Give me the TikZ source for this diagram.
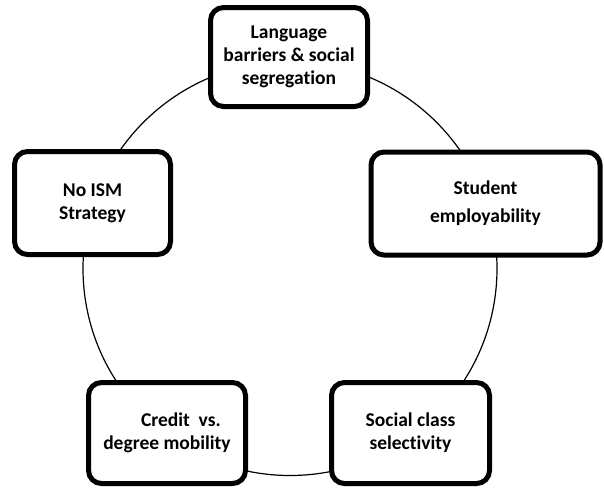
\documentclass[tikz,border=0pt]{standalone}
\usepackage{fontspec}
\setmainfont[Ligatures = NoCommon]{Carlito}
\usetikzlibrary{shadows}

\begin{document}
\begin{tikzpicture}[x = 1pt, y = -1pt,
  issue/.style = {draw, line width = 5pt, rounded corners = 13pt, fill = white,
    align = center, inner sep = 0pt, minimum width = 157pt, minimum height = 101pt,
    font = \fontsize{19.5}{23}\selectfont\bfseries,
    drop shadow = {opacity = .3, shadow xshift = 1.5pt, shadow yshift = -1.5pt}}]
  \useasboundingbox (0, 0) rectangle (604, 488);

  \coordinate (O) at (290, 268.5);
  \draw[line width = 1.2pt] (O) circle[radius = 207];

  \node[issue, minimum height = 99pt] (lang) at (289, 57)
  {Language\\barriers \& social\\segregation};
  \node[issue, minimum width = 156pt, minimum height = 103pt] (ism) at (92.5, 203)
  {No ISM\\Strategy};
  \node[issue, minimum width = 229pt, minimum height = 103pt] (employ) at (485.5, 203.5)
  {Student\\[5pt]employability};
  \node[issue] (credit) at (167, 433)
  {\hspace*{28pt}Credit~~vs.\\degree mobility};
  \node[issue, minimum width = 158pt] (social) at (410.5, 433)
  {Social class\\selectivity};
\end{tikzpicture}
\end{document}
